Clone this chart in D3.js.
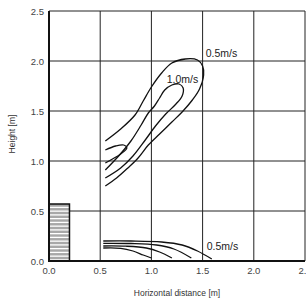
<!DOCTYPE html>
<html>
  <head>
    <script src="https://cdnjs.cloudflare.com/ajax/libs/d3/7.8.5/d3.min.js"></script>
<style>
  body { margin: 0; background: #fff; }
  svg { display: block; font-family: "Liberation Sans", Arial, sans-serif; }
</style>
  </head>
  <body>
    <div id="vis"></div>
    <script type="text/javascript">

        // values (metres)
        const xTicks = [0.0, 0.5, 1.0, 1.5, 2.0, 2.5];
        const yTicks = [0.0, 0.5, 1.0, 1.5, 2.0, 2.5];

        // outer 0.5 m/s contour of the upper jet
        const contourOuter = [
            [0.55, 1.20], [0.70, 1.32], [0.84, 1.46], [0.92, 1.60], [1.00, 1.74],
            [1.10, 1.88], [1.20, 1.98], [1.33, 2.02], [1.45, 2.01], [1.50, 1.95],
            [1.51, 1.86], [1.47, 1.72], [1.40, 1.61], [1.30, 1.49], [1.20, 1.39],
            [1.08, 1.27], [0.97, 1.16], [0.87, 1.03], [0.77, 0.93], [0.66, 0.83],
            [0.55, 0.75]
        ];
        // inner 1.0 m/s contour
        const contourInner = [
            [0.55, 0.91], [0.68, 1.05], [0.80, 1.20], [0.90, 1.36], [0.97, 1.48],
            [1.03, 1.55], [1.08, 1.63], [1.13, 1.71], [1.20, 1.76], [1.27, 1.77],
            [1.31, 1.73], [1.30, 1.65], [1.24, 1.57], [1.14, 1.47], [1.04, 1.35],
            [0.94, 1.21], [0.82, 1.05], [0.70, 0.93], [0.55, 0.83]
        ];
        // notch between the two jets
        const contourNotch = [
            [0.55, 1.11], [0.65, 1.15], [0.73, 1.16], [0.76, 1.13], [0.70, 1.07],
            [0.62, 1.02], [0.55, 0.98]
        ];
        // floor jet contours (0.5 m/s outermost)
        const floorJets = [
            [[0.53, 0.20], [0.80, 0.20], [1.10, 0.19], [1.30, 0.16], [1.45, 0.10], [1.59, 0.02]],
            [[0.53, 0.177], [0.80, 0.175], [1.05, 0.16], [1.22, 0.12], [1.39, 0.03]],
            [[0.53, 0.15], [0.75, 0.148], [0.95, 0.13], [1.08, 0.09], [1.20, 0.03]],
            [[0.53, 0.13], [0.70, 0.127], [0.82, 0.10], [0.92, 0.06], [1.00, 0.03]]
        ];
        const labels = [
            { text: "0.5m/s", x: 1.53, y: 2.04 },
            { text: "1.0m/s", x: 1.15, y: 1.78 },
            { text: "0.5m/s", x: 1.54, y: 0.11 }
        ];
        const barrierX = [0.0, 0.2];
        const barrierHeight = 0.57;

        const width = 306;
        const height = 300;
        const svg = d3.select("#vis").append("svg")
            .attr("width", width)
            .attr("height", height);

        var xScale = d3.scaleLinear().domain([0.0, 2.5]).range([49, 305]);
        var yScale = d3.scaleLinear().domain([0.0, 2.5]).range([261, 11]);

        // grid
        svg.append("g").selectAll("line")
            .data(xTicks)
            .join("line")
            .attr("x1", d => xScale(d)).attr("x2", d => xScale(d))
            .attr("y1", yScale(0)).attr("y2", yScale(2.5))
            .attr("stroke", "#222").attr("stroke-width", 1);
        svg.append("g").selectAll("line")
            .data(yTicks)
            .join("line")
            .attr("y1", d => yScale(d)).attr("y2", d => yScale(d))
            .attr("x1", xScale(0)).attr("x2", xScale(2.5))
            .attr("stroke", "#222").attr("stroke-width", 1);

        // barrier with stripes
        const bx0 = xScale(barrierX[0]), bx1 = xScale(barrierX[1]);
        const by0 = yScale(barrierHeight), by1 = yScale(0);
        svg.append("rect")
            .attr("x", bx0).attr("y", by0)
            .attr("width", bx1 - bx0).attr("height", by1 - by0)
            .attr("fill", "#a8a8a8");
        svg.append("g").selectAll("line")
            .data(d3.range(by0 + 3.4, by1 - 1, 3.75))
            .join("line")
            .attr("x1", bx0).attr("x2", bx1)
            .attr("y1", d => d).attr("y2", d => d)
            .attr("stroke", "#fff").attr("stroke-width", 1.3);
        svg.append("rect")
            .attr("x", bx0).attr("y", by0)
            .attr("width", bx1 - bx0).attr("height", by1 - by0)
            .attr("fill", "none").attr("stroke", "#111").attr("stroke-width", 1.5);

        // axes lines
        svg.append("line")
            .attr("x1", xScale(0)).attr("x2", xScale(0))
            .attr("y1", yScale(0) + 1).attr("y2", yScale(2.5))
            .attr("stroke", "#111").attr("stroke-width", 2);
        svg.append("line")
            .attr("x1", xScale(0)).attr("x2", xScale(2.5))
            .attr("y1", yScale(0)).attr("y2", yScale(0))
            .attr("stroke", "#111").attr("stroke-width", 2);

        // contours
        const line = d3.line()
            .x(d => xScale(d[0]))
            .y(d => yScale(d[1]))
            .curve(d3.curveCatmullRom.alpha(0.5));
        svg.append("g").selectAll("path")
            .data([contourOuter, contourInner, contourNotch].concat(floorJets))
            .join("path")
            .attr("fill", "none")
            .attr("stroke", "#111")
            .attr("stroke-width", 1.3)
            .attr("d", d => line(d));

        // labels
        svg.append("g").selectAll("text")
            .data(labels)
            .join("text")
            .attr("x", d => xScale(d.x))
            .attr("y", d => yScale(d.y))
            .attr("font-size", 10.5)
            .attr("fill", "#222")
            .text(d => d.text);

        // tick labels
        svg.append("g").selectAll("text")
            .data(xTicks)
            .join("text")
            .attr("x", d => xScale(d))
            .attr("y", 274)
            .attr("text-anchor", "middle")
            .attr("font-size", 9.5)
            .attr("fill", "#444")
            .text(d => d.toFixed(1));
        svg.append("g").selectAll("text")
            .data(yTicks)
            .join("text")
            .attr("x", 44)
            .attr("y", d => yScale(d) + 3.5)
            .attr("text-anchor", "end")
            .attr("font-size", 9.5)
            .attr("fill", "#444")
            .text(d => d.toFixed(1));

        // axis titles
        svg.append("text")
            .attr("x", 177).attr("y", 296)
            .attr("text-anchor", "middle")
            .attr("font-size", 8.5)
            .attr("fill", "#333")
            .text("Horizontal distance [m]");
        svg.append("text")
            .attr("transform", "translate(15,134) rotate(-90)")
            .attr("text-anchor", "middle")
            .attr("font-size", 8.5)
            .attr("fill", "#333")
            .text("Height [m]");

    </script>
  </body>
</html>
